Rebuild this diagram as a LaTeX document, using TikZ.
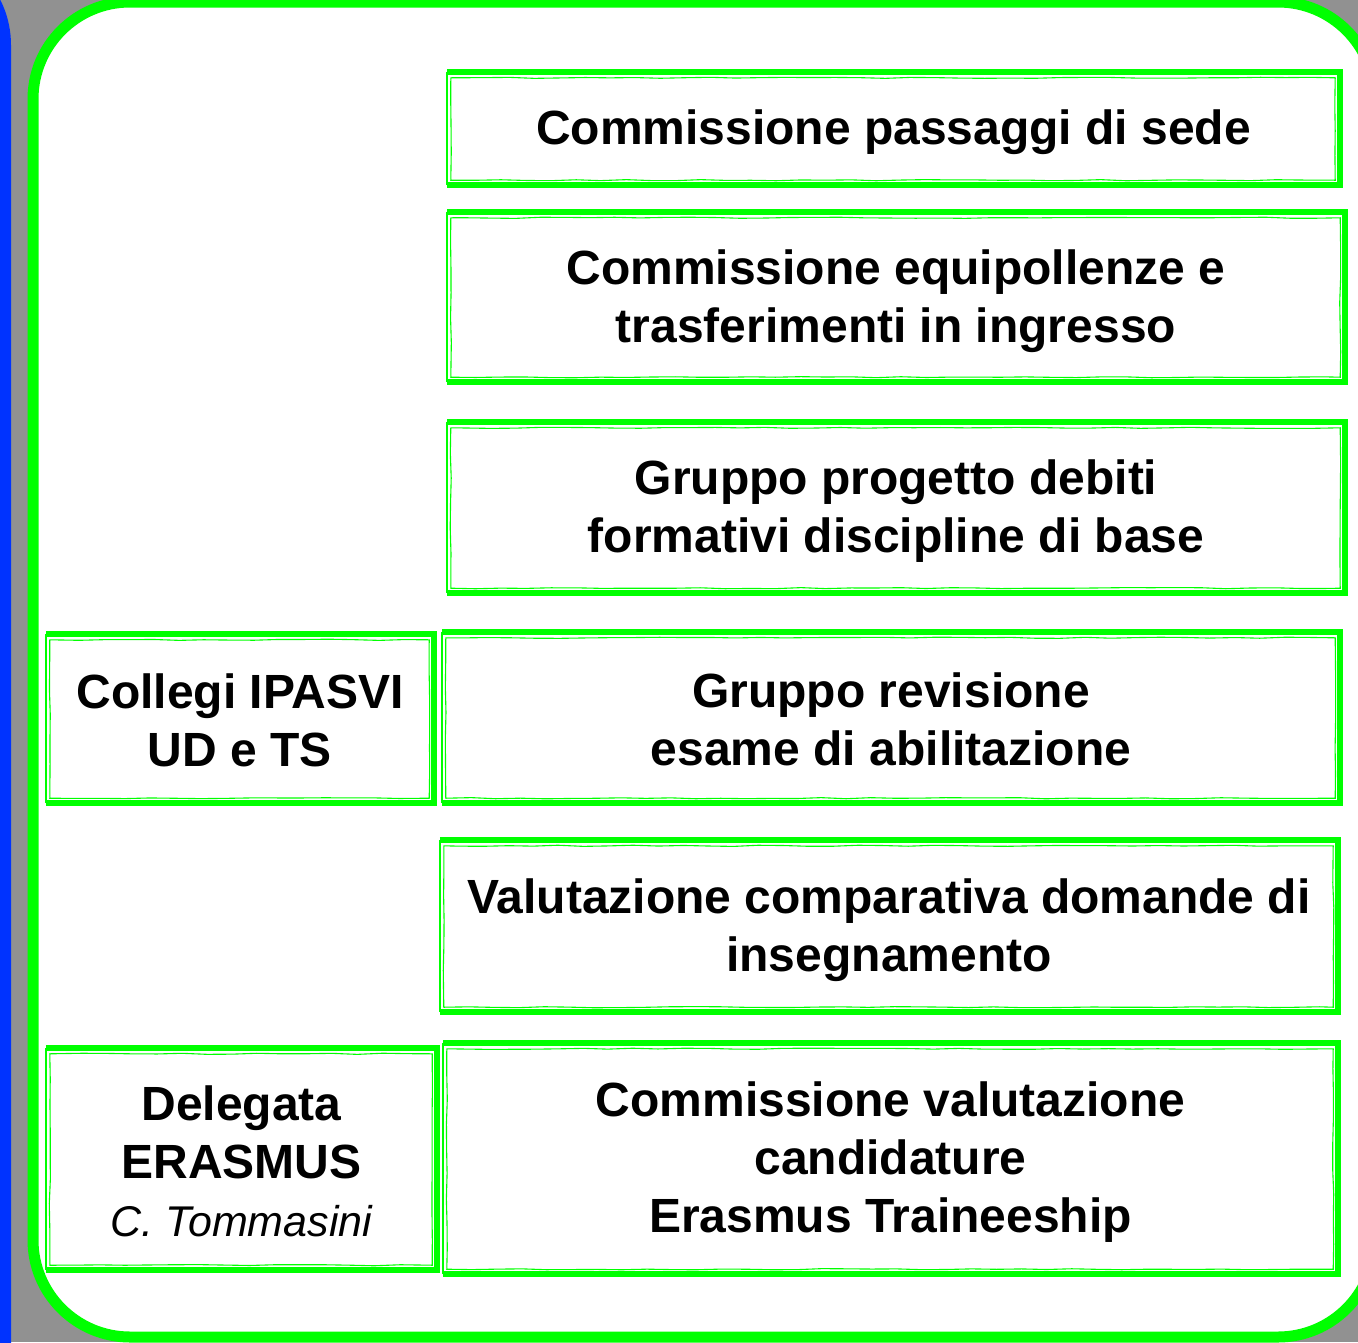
\documentclass[tikz,border=0pt]{standalone}
\usepackage{fontspec}
\setmainfont{Liberation Sans}
\usetikzlibrary{decorations.pathmorphing}
\definecolor{bggray}{HTML}{919191}
\definecolor{lgreen}{HTML}{00FF00}
\definecolor{lblue}{HTML}{0033FF}
\tikzset{
  orgbox/.style={draw=none, fill=white, inner sep=0pt},
  orgtext/.style={align=center, inner sep=0pt,
    font=\bfseries\fontsize{48}{58}\selectfont},
  thickedge/.style={draw=lgreen, line width=5.5pt, line join=miter},
  thinedge/.style={draw=lgreen, line width=1.8pt},
  sketchedge/.style={draw=lgreen, line width=1.1pt, decorate,
    decoration={random steps, segment length=25pt, amplitude=0.6pt}},
}
\newcommand\sketchbox[1]{%
  \draw[thickedge] (#1.north west) -- (#1.north east) -- (#1.south east) -- (#1.south west);
  \draw[thinedge] (#1.south west) -- (#1.north west);
  \draw[sketchedge] ([shift={(4,6)}]#1.north west) rectangle ([shift={(-5,-5)}]#1.south east);
}
\begin{document}
\begin{tikzpicture}[x=1pt,y=-1pt]
\useasboundingbox (0,0) rectangle (1358,1342);
\clip (0,0) rectangle (1358,1342);
\fill[bggray] (0,0) rectangle (1358,1342);
% blue frame (neighbouring panel)
\draw[lblue, line width=11pt, rounded corners=95pt] (-300,-50) rectangle (5.5,1500);
% main green panel
\draw[lgreen, fill=white, line width=11pt, rounded corners=97pt] (33,2) rectangle (1375,1337);
% boxes
\node[orgbox, minimum width=893pt, minimum height=113pt] (b1) at (893.5,128.5) {};
\node[orgbox, minimum width=898pt, minimum height=170pt] (b2) at (896,297) {};
\node[orgbox, minimum width=898pt, minimum height=171pt] (b3) at (896,507.5) {};
\node[orgbox, minimum width=898pt, minimum height=171pt] (b4) at (891,717.5) {};
\node[orgbox, minimum width=898pt, minimum height=172pt] (b5) at (889,926) {};
\node[orgbox, minimum width=895pt, minimum height=231pt] (b6) at (890.5,1158.5) {};
\node[orgbox, minimum width=388pt, minimum height=169pt] (b7) at (240,718.5) {};
\node[orgbox, minimum width=391pt, minimum height=222pt] (b8) at (241.5,1159) {};
\sketchbox{b1}
\sketchbox{b2}
\sketchbox{b3}
\sketchbox{b4}
\sketchbox{b5}
\sketchbox{b6}
\sketchbox{b7}
\sketchbox{b8}
% texts
\node[orgtext] (t1) at ([shift={(0,4)}]b1.center) {Commissione passaggi di sede};
\node[orgtext] (t2) at ([shift={(0,4)}]b2.center) {Commissione equipollenze e\\trasferimenti in ingresso};
\node[orgtext] (t3) at ([shift={(0,4)}]b3.center) {Gruppo progetto debiti\\formativi discipline di base};
\node[orgtext] (t4) at ([shift={(0,2)}]b4.center) {Gruppo revisione\\esame di abilitazione};
\node[orgtext] (t5) at ([shift={(0,4)}]b5.center) {Valutazione comparativa domande di\\insegnamento};
\node[orgtext] (t6) at ([shift={(0,4)}]b6.center) {Commissione valutazione\\candidature\\Erasmus Traineeship};
\node[orgtext] (t7) at ([shift={(0,2)}]b7.center) {Collegi IPASVI\\UD e TS};
\node[orgtext] (t8) at ([shift={(0,2)}]b8.center) {Delegata\\ERASMUS\\{\mdseries\itshape\fontsize{43}{58}\selectfont C. Tommasini}};
\end{tikzpicture}
\end{document}
